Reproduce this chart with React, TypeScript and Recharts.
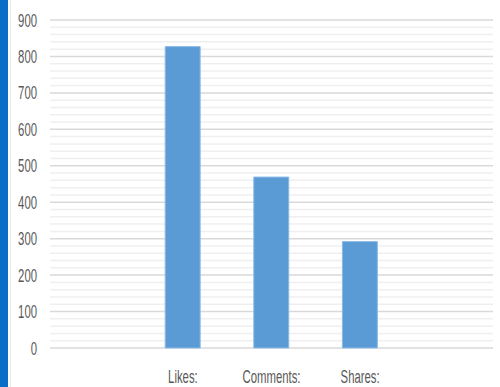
import React from 'react';
import { BarChart, Bar, XAxis, YAxis, CartesianGrid } from 'recharts';

const categories = ['', 'Likes:', 'Comments:', 'Shares:', ' '];
const values = [null, 827, 469, 292, null];
const majorTicks = [0, 100, 200, 300, 400, 500, 600, 700, 800, 900];
const minorTicks = [20, 40, 60, 80, 120, 140, 160, 180, 220, 240, 260, 280, 320, 340, 360, 380, 420, 440, 460, 480, 520, 540, 560, 580, 620, 640, 660, 680, 720, 740, 760, 780, 820, 840, 860, 880];

const data = categories.map((c, i) => ({ name: c, value: values[i] }));

const FONT = '"Liberation Sans", Arial, sans-serif';

const YTick = (props: any) => {
  const { x, y, payload } = props;
  return (
    <text
      transform={`translate(${x - 5}, ${y + 6.5}) scale(0.63, 1)`}
      textAnchor="end"
      fontSize={18}
      fontFamily={FONT}
      fill="#595959"
    >
      {payload.value}
    </text>
  );
};

const XTick = (props: any) => {
  const { x, payload } = props;
  return (
    <text
      transform={`translate(${x}, 382.5) scale(0.63, 1)`}
      textAnchor="middle"
      fontSize={18}
      fontFamily={FONT}
      fill="#595959"
    >
      {payload.value}
    </text>
  );
};

export default function App() {
  return (
    <div style={{ position: 'absolute', left: 0, top: 0, width: 500, height: 387, background: '#fff' }}>
      <div style={{ position: 'absolute', left: 0, top: 0, width: 8, height: 387, background: '#0b6ec6' }} />
      <div style={{ position: 'absolute', left: 10, top: 0, width: 1, height: 387, background: '#e8e8e8' }} />
      <div style={{ position: 'absolute', left: 0, top: 0 }}>
        <BarChart
          width={500}
          height={387}
          data={data}
          margin={{ top: 20, right: 7, bottom: 0, left: 0 }}
          barCategoryGap="30%"
        >
          <CartesianGrid vertical={false} horizontalValues={minorTicks} stroke="#efefef" strokeWidth={1.5} />
          <CartesianGrid vertical={false} horizontalValues={majorTicks} stroke="#d9d9d9" strokeWidth={1.5} />
          <XAxis
            dataKey="name"
            height={39}
            axisLine={false}
            tickLine={false}
            tick={<XTick />}
            interval={0}
          />
          <YAxis
            width={50}
            domain={[0, 900]}
            ticks={majorTicks}
            axisLine={false}
            tickLine={false}
            tick={<YTick />}
            interval={0}
          />
          <Bar dataKey="value" fill="#5b9bd5" stroke="#8dbbe6" strokeWidth={1} isAnimationActive={false} />
        </BarChart>
      </div>
    </div>
  );
}
